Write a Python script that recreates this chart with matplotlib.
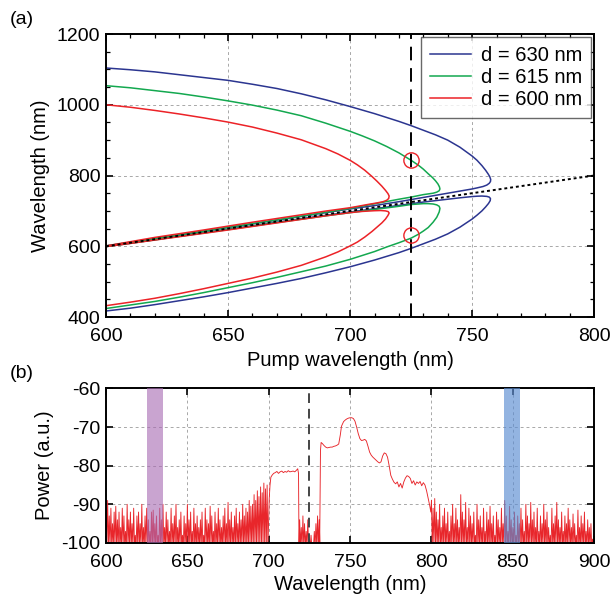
import numpy as np
import matplotlib
matplotlib.use("Agg")
import matplotlib.pyplot as plt
from matplotlib.ticker import MultipleLocator

plt.rcParams["font.family"] = ["Liberation Sans", "DejaVu Sans"]
plt.rcParams["axes.unicode_minus"] = False

# ── (a) phase-matching curves: (pump, wavelength) ─────────────────────────────
labels = ["d = 630 nm", "d = 615 nm", "d = 600 nm"]
colors = ["#2b3590", "#13a84f", "#ec2227"]

# upper branch (signal side): outer arm out to the nose, then inner arm back
upper_pump = [
    [600, 610, 620, 630, 640, 650, 660, 670, 680, 690, 700, 710, 720, 725, 730, 735, 740, 745,
     750, 752, 754, 755.5, 756.5, 757.2, 757.6, 757.5, 757, 756, 754.5, 752, 750, 745, 740,
     730, 720, 710, 700, 690, 680, 670, 660, 650, 640, 630, 620, 610, 600],
    [600, 610, 620, 630, 640, 650, 660, 670, 680, 690, 700, 705, 710, 715, 720, 725, 728, 730,
     732, 733.8, 735, 736, 736.6, 736.8, 736.5, 735.5, 734, 732, 730, 725, 720, 710, 700,
     690, 680, 670, 660, 650, 640, 630, 620, 610, 600],
    [600, 610, 620, 630, 640, 650, 660, 670, 680, 690, 695, 700, 703, 706, 709, 711, 713,
     714.5, 715.5, 716, 715.8, 715, 713.5, 711, 708, 700, 690, 680, 670, 660, 650, 640, 630,
     620, 610, 600],
]
upper_wl = [
    [1104, 1099, 1093, 1085, 1077, 1069, 1058, 1046, 1031, 1014, 995, 975, 953, 941, 928, 915, 900, 880,
     855, 843, 828, 815, 805, 797, 789, 783, 778, 773, 769, 765, 762, 756, 750,
     738, 726, 715, 705.5, 695, 684.5, 674, 663.5, 653, 642.5, 632, 621.5, 611, 601],
    [1054, 1048, 1040, 1032, 1022, 1011, 999, 985, 969, 948, 925, 912, 898, 882, 864, 843, 829, 818,
     805, 794, 785, 776, 768, 762, 757, 753, 750, 748, 746, 739, 733, 720, 707,
     696, 685, 674.5, 664, 653.5, 643, 632.5, 622, 611.5, 601],
    [1000, 993, 984, 974, 963, 951, 937, 920, 901, 876, 861, 843, 830, 815, 797, 784, 770,
     758, 749, 742, 735, 730, 726, 722.5, 719, 709, 699.5, 689, 678.5, 668, 657, 646, 635.5,
     625, 613, 601],
]
# lower branch (idler side)
lower_pump = [
    [600, 610, 620, 630, 640, 650, 660, 670, 680, 690, 700, 710, 720, 725, 730, 735, 740, 745,
     750, 752, 754, 755.5, 756.7, 757.4, 757.5, 757, 756, 754, 752, 750, 745, 740, 730, 720,
     710, 700, 690, 680, 670, 660, 650, 640, 630, 620, 610, 600],
    [600, 610, 620, 630, 640, 650, 660, 670, 680, 690, 700, 705, 710, 715, 720, 725, 728, 730,
     732, 734, 735.5, 736.5, 736.8, 736.5, 735.5, 734, 732, 730, 725, 720, 710, 700, 690, 680,
     670, 660, 650, 640, 630, 620, 610, 600],
    [600, 610, 620, 630, 640, 650, 660, 670, 680, 690, 695, 700, 703, 706, 709, 711, 713,
     714.5, 715.5, 716, 715.6, 714.5, 712.5, 710, 705, 700, 690, 680, 670, 660, 650, 640, 630,
     620, 610, 600],
]
lower_wl = [
    [417, 425, 435, 446, 457, 469, 482, 495, 509, 525, 542, 561, 582, 594, 607, 620, 635, 654,
     677, 688, 700, 711, 721, 729, 735, 739, 741, 742, 741.5, 740.5, 737, 733, 725, 715.5,
     706, 697, 687.5, 678, 668, 658, 648, 638, 628.5, 618.5, 608.5, 599],
    [424, 434, 444, 456, 469, 483, 497, 512, 528, 544, 563, 574, 585, 598, 610, 623, 634, 643,
     653, 668, 682, 697, 707, 713, 717, 719.5, 720.5, 720.5, 718, 713, 704, 695, 686, 676.5,
     667, 657, 647, 637.5, 628, 618, 608.5, 599],
    [432, 442, 453, 466, 480, 495, 510, 527, 546, 570, 584, 601, 612, 626, 642, 654, 666,
     677, 687, 694, 698, 700, 701, 700.5, 698.5, 695, 686, 676, 666, 656, 646, 636.5, 627,
     617.5, 608, 599],
]

pump_line = [600, 800]       # degenerate line (wavelength = pump)
pump_mark = 725              # pump used in the experiment
circle_wl = [845, 633]       # circled signal / idler pair

# ── (b) measured spectrum ─────────────────────────────────────────────────────
noise_a_start = 600          # one spike per nm from 600 to 699
noise_a = [
    -90, -89, -93, -91, -95, -92, -90.5, -94, -92, -96,
    -91, -93, -97, -90, -94, -92, -95, -91, -98, -93,
    -92, -95, -90, -96, -93, -91, -94, -97, -92, -91.5,
    -95, -93, -98, -91, -94, -90, -96, -92, -94, -97,
    -91, -95, -93, -90, -96, -94, -92, -98, -93, -95,
    -90, -94, -92, -97, -91, -95, -93, -96, -94, -92,
    -98, -91, -94, -95, -90.5, -93, -97, -92, -95, -91,
    -94, -96, -93, -91, -95, -89.5, -94, -92, -96, -93,
    -91, -95, -92, -94, -90, -93, -91, -92, -89, -90.5,
    -90, -87.5, -89, -86.5, -88, -85.5, -87, -84.5, -86, -85,
]
plateau_x = [700.3, 700.8, 701.3, 702, 703, 704, 705, 706, 707, 708, 709, 710,
             711, 712, 713, 714, 715, 716, 717, 717.8, 718.3, 718.6]
plateau_y = [-88.5, -85, -83, -82.5, -82, -81.8, -81.5, -82, -81.6, -81.4, -81.8, -81.5,
             -81.7, -81.3, -81.6, -81.5, -81.4, -81.6, -81.2, -80.8, -82, -101]
noise_b_start = 719
noise_b = [-94, -96, -93, -95, -97, -94, -99, -98, -100, -97, -95, -93, -94]
peak_x = [731.3, 731.8, 732.2, 733, 734, 735, 736, 737, 738, 739, 740, 741, 742, 743,
          744, 744.7, 746, 747, 748, 749, 750, 751, 752, 753, 754, 755, 756, 757, 758,
          759, 760, 761, 762, 763, 764, 765, 766, 767, 768, 769, 770, 771, 772, 773,
          774, 775, 776, 777, 778, 779, 780, 781, 782, 783, 784, 785, 786, 787, 788,
          789, 790, 791, 792, 793, 794, 795, 796, 797, 798, 799, 799.6]
peak_y = [-100.5, -76, -74, -74.3, -74.8, -75.2, -75.4, -75.3, -75.2, -75.2, -75, -74.9, -74.7, -74.4,
          -72, -69.8, -68.6, -68.2, -67.9, -67.7, -67.6, -67.6, -67.8, -68.5, -70, -71.7, -73, -73.5, -73.4,
          -73.2, -73.6, -75, -76.5, -77.3, -77.8, -78.2, -78.6, -79, -79.3, -79, -77.5, -76.7, -76.9, -77.8,
          -80, -82.5, -83.5, -84.3, -84.7, -84.2, -85.5, -84.6, -85.8, -84.2, -83.2, -82.6, -82.8, -83.3, -84.6,
          -83.9, -85, -84.2, -84.6, -84.1, -85.2, -84.4, -85, -86.5, -88.5, -90.5, -92]
noise_c_start = 800          # one spike per nm from 800 to 899
noise_c = [
    -89, -91, -88.5, -92, -94, -90, -96, -93, -91, -95,
    -92, -97, -93, -90, -95, -91, -94, -96, -87.5, -92,
    -94, -89.5, -96, -91, -93, -95, -92, -98, -90, -94,
    -93, -96, -91, -97, -92, -94, -90.5, -95, -93, -98,
    -92, -94, -96, -91, -95, -89, -93, -97, -90.5, -94,
    -96, -92, -98, -93, -95, -91, -94, -97, -90, -93,
    -95, -89.5, -94, -92, -96, -91, -97, -93, -95, -90,
    -94, -92, -96, -98, -91, -95, -93, -89.5, -94, -96,
    -92, -97, -93, -95, -91, -94, -96, -92.5, -95, -98,
    -91.5, -96, -93, -95, -92, -97, -94, -96, -95, -99,
]
noise_floor = -101

idler_band = [625, 635]
signal_band = [844.5, 854.5]


def spikes(start, peaks):
    """Peaks at whole nm, dropping to the detector floor in between."""
    xs = np.column_stack([start + np.arange(len(peaks)),
                          start + np.arange(len(peaks)) + 0.5]).ravel()
    ys = np.column_stack([peaks, np.full(len(peaks), noise_floor)]).ravel()
    return xs, ys


fig = plt.figure(figsize=(6.11, 5.97), dpi=100)
ax1 = fig.add_axes([0.1735, 0.469, 0.799, 0.474])
ax2 = fig.add_axes([0.1735, 0.0905, 0.799, 0.259])

# ── panel (a) ────────────────────────────────────────────────────────────────
for i in range(3):
    ax1.plot(upper_pump[i], upper_wl[i], color=colors[i], lw=1.1, label=labels[i])
    ax1.plot(lower_pump[i], lower_wl[i], color=colors[i], lw=1.1)
ax1.plot(pump_line, pump_line, color="black", lw=1.4, linestyle=(0, (1.5, 1.5)))
ax1.axvline(pump_mark, color="black", lw=1.4, linestyle=(0, (7, 4)))
ax1.plot([pump_mark] * len(circle_wl), circle_wl, linestyle="none", marker="o",
         ms=11, mfc="none", mec="#ec2227", mew=1.0)

ax1.set_xlim(600, 800)
ax1.set_ylim(400, 1200)
ax1.xaxis.set_major_locator(MultipleLocator(50))
ax1.xaxis.set_minor_locator(MultipleLocator(10))
ax1.yaxis.set_major_locator(MultipleLocator(200))
ax1.yaxis.set_minor_locator(MultipleLocator(50))
ax1.set_xlabel("Pump wavelength (nm)", fontsize=14.5, labelpad=4)
ax1.set_ylabel("Wavelength (nm)", fontsize=14.5, labelpad=5)
leg = ax1.legend(loc="upper right", fontsize=14.5, handlelength=2.0, fancybox=False,
                 borderaxespad=0.15, labelspacing=0.15, handletextpad=0.5,
                 borderpad=0.45)
leg.get_frame().set_edgecolor("#444444")
leg.get_frame().set_linewidth(1.0)

# ── panel (b) ────────────────────────────────────────────────────────────────
xa, ya = spikes(noise_a_start, noise_a)
xb, yb = spikes(noise_b_start, noise_b)
xc, yc = spikes(noise_c_start, noise_c)
spec_x = np.concatenate([xa, plateau_x, xb, peak_x, xc])
spec_y = np.concatenate([ya, plateau_y, yb, peak_y, yc])
ax2.plot(spec_x, spec_y, color="#e8262b", lw=0.65)
ax2.axvspan(*idler_band, color="#a86cb3", alpha=0.62, lw=0, zorder=3)
ax2.axvspan(*signal_band, color="#5a8cd2", alpha=0.65, lw=0, zorder=3)
ax2.axvline(pump_mark, color="#444444", lw=1.4, linestyle=(0, (5, 3)))

ax2.set_xlim(600, 900)
ax2.set_ylim(-100, -60)
ax2.xaxis.set_major_locator(MultipleLocator(50))
ax2.yaxis.set_major_locator(MultipleLocator(10))
ax2.set_xlabel("Wavelength (nm)", fontsize=14.5, labelpad=3)
ax2.set_ylabel("Power (a.u.)", fontsize=14.5, labelpad=5)

for ax in (ax1, ax2):
    ax.grid(True, color="#a8a8a8", linestyle=(0, (3, 3)), lw=0.7)
    ax.set_axisbelow(True)
    ax.tick_params(which="both", direction="in", top=True, right=True, labelsize=14)
    ax.tick_params(axis="x", pad=8)
    ax.tick_params(axis="y", pad=4)
    ax.tick_params(which="major", length=5, width=1.2)
    ax.tick_params(which="minor", length=3, width=0.9)
    for s in ax.spines.values():
        s.set_linewidth(1.4)

fig.text(0.016, 0.967, "(a)", fontsize=14, va="center")
fig.text(0.016, 0.375, "(b)", fontsize=14, va="center")

fig.savefig("out.png", dpi=100)
